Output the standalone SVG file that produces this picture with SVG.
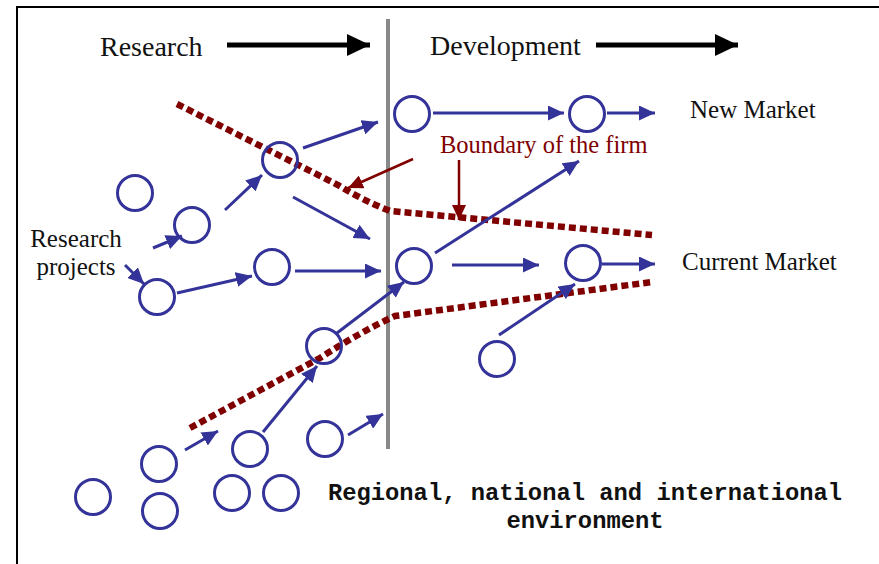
<svg xmlns="http://www.w3.org/2000/svg" width="879" height="564" viewBox="0 0 879 564">
<style>
.node{fill:none;stroke:#333399;stroke-width:3}
.flow{fill:none;stroke:#333399;stroke-width:3}
.bound{fill:none;stroke:#800000;stroke-width:6.5;stroke-dasharray:7 4}
.ptr{fill:none;stroke:#800000;stroke-width:2.5}
.phase{fill:none;stroke:#000;stroke-width:5}
.serif{font-family:"Liberation Serif","Times New Roman",serif;fill:#111}
.mono{font-family:"Liberation Mono","Courier New",monospace;font-weight:bold;fill:#111}
</style>
<defs>
<marker id="ab" markerUnits="userSpaceOnUse" markerWidth="17" markerHeight="15" refX="16" refY="7.5" orient="auto"><path d="M0,0 L16,7.5 L0,15 z" fill="#333399"/></marker>
<marker id="ar" markerUnits="userSpaceOnUse" markerWidth="16" markerHeight="14" refX="15" refY="7" orient="auto"><path d="M0,0 L15,7 L0,14 z" fill="#800000"/></marker>
<marker id="ak" markerUnits="userSpaceOnUse" markerWidth="24" markerHeight="22" refX="23" refY="11" orient="auto"><path d="M0,0 L23,11 L0,22 z" fill="#000"/></marker>
</defs>
<rect width="879" height="564" fill="#fff"/>
<path d="M17,564 L17,7 L879,7" fill="none" stroke="#000" stroke-width="2"/>
<line x1="388" y1="19" x2="388" y2="449" stroke="#888" stroke-width="4"/>

<g id="phase-labels">
<text class="serif" x="100" y="56" font-size="28">Research</text>
<line class="phase" x1="227" y1="45" x2="370" y2="45" marker-end="url(#ak)"/>
<text class="serif" x="430" y="55" font-size="28">Development</text>
<line class="phase" x1="596" y1="45" x2="738" y2="45" marker-end="url(#ak)"/>
</g>

<g id="market-labels">
<text class="serif" x="690" y="118" font-size="25">New Market</text>
<text class="serif" x="682" y="270" font-size="25">Current Market</text>
</g>

<g id="boundary">
<path class="bound" d="M177,104 L338,185 Q362,200 390,211 L652,235"/>
<path class="bound" d="M190,428 L320,358 Q360,332 395,316 L652,282"/>
<text class="serif" x="440" y="153" font-size="24.5" style="fill:#800000">Boundary of the firm</text>
<line class="ptr" x1="413" y1="159" x2="348" y2="188" marker-end="url(#ar)"/>
<line class="ptr" x1="459" y1="160" x2="459" y2="220" marker-end="url(#ar)"/>
</g>

<g id="projects-label">
<text class="serif" x="76" y="247" font-size="25" text-anchor="middle">Research</text>
<text class="serif" x="76" y="275" font-size="25" text-anchor="middle">projects</text>
</g>

<g id="environment-label">
<text class="mono" x="585" y="500" font-size="23.8" text-anchor="middle">Regional, national and international</text>
<text class="mono" x="585" y="528" font-size="23.8" text-anchor="middle">environment</text>
</g>

<g id="nodes">
<g id="n1"><circle class="node" cx="135" cy="193" r="17.5"/></g>
<g id="n2"><circle class="node" cx="192" cy="225" r="17.5"/></g>
<g id="n3"><circle class="node" cx="280" cy="160" r="17.5"/></g>
<g id="n4"><circle class="node" cx="272" cy="267" r="17.5"/></g>
<g id="n5"><circle class="node" cx="157" cy="297" r="17.5"/></g>
<g id="n6"><circle class="node" cx="412" cy="114" r="17.5"/></g>
<g id="n7"><circle class="node" cx="587" cy="114" r="17.5"/></g>
<g id="n8"><circle class="node" cx="414" cy="266" r="17.5"/></g>
<g id="n9"><circle class="node" cx="583" cy="263" r="17.5"/></g>
<g id="n10"><circle class="node" cx="324" cy="346" r="17.5"/></g>
<g id="n11"><circle class="node" cx="497" cy="359" r="17.5"/></g>
<g id="n12"><circle class="node" cx="250" cy="449" r="17.5"/></g>
<g id="n13"><circle class="node" cx="159" cy="464" r="17.5"/></g>
<g id="n14"><circle class="node" cx="325" cy="439" r="17.5"/></g>
<g id="n15"><circle class="node" cx="93" cy="497" r="17.5"/></g>
<g id="n16"><circle class="node" cx="160" cy="511" r="17.5"/></g>
<g id="n17"><circle class="node" cx="232" cy="493" r="17.5"/></g>
<g id="n18"><circle class="node" cx="281" cy="493" r="17.5"/></g>
</g>

<g id="connectors">
<line class="flow" x1="153" y1="248" x2="182" y2="236" marker-end="url(#ab)"/>
<line class="flow" x1="125" y1="265" x2="144" y2="284" marker-end="url(#ab)"/>
<line class="flow" x1="225" y1="210" x2="262" y2="175" marker-end="url(#ab)"/>
<line class="flow" x1="303" y1="148" x2="378" y2="122" marker-end="url(#ab)"/>
<line class="flow" x1="293" y1="197" x2="370" y2="239" marker-end="url(#ab)"/>
<line class="flow" x1="177" y1="293" x2="252" y2="276" marker-end="url(#ab)"/>
<line class="flow" x1="295" y1="271" x2="381" y2="271" marker-end="url(#ab)"/>
<line class="flow" x1="433" y1="113" x2="564" y2="113" marker-end="url(#ab)"/>
<line class="flow" x1="607" y1="113" x2="655" y2="113" marker-end="url(#ab)"/>
<line class="flow" x1="435" y1="253" x2="579" y2="161" marker-end="url(#ab)"/>
<line class="flow" x1="452" y1="265" x2="539" y2="265" marker-end="url(#ab)"/>
<line class="flow" x1="602" y1="264" x2="655" y2="264" marker-end="url(#ab)"/>
<line class="flow" x1="499" y1="335" x2="575" y2="284" marker-end="url(#ab)"/>
<line class="flow" x1="337" y1="333" x2="404" y2="282" marker-end="url(#ab)"/>
<line class="flow" x1="263" y1="432" x2="317" y2="366" marker-end="url(#ab)"/>
<line class="flow" x1="185" y1="450" x2="218" y2="431" marker-end="url(#ab)"/>
<line class="flow" x1="348" y1="435" x2="383" y2="414" marker-end="url(#ab)"/>
</g>
</svg>
